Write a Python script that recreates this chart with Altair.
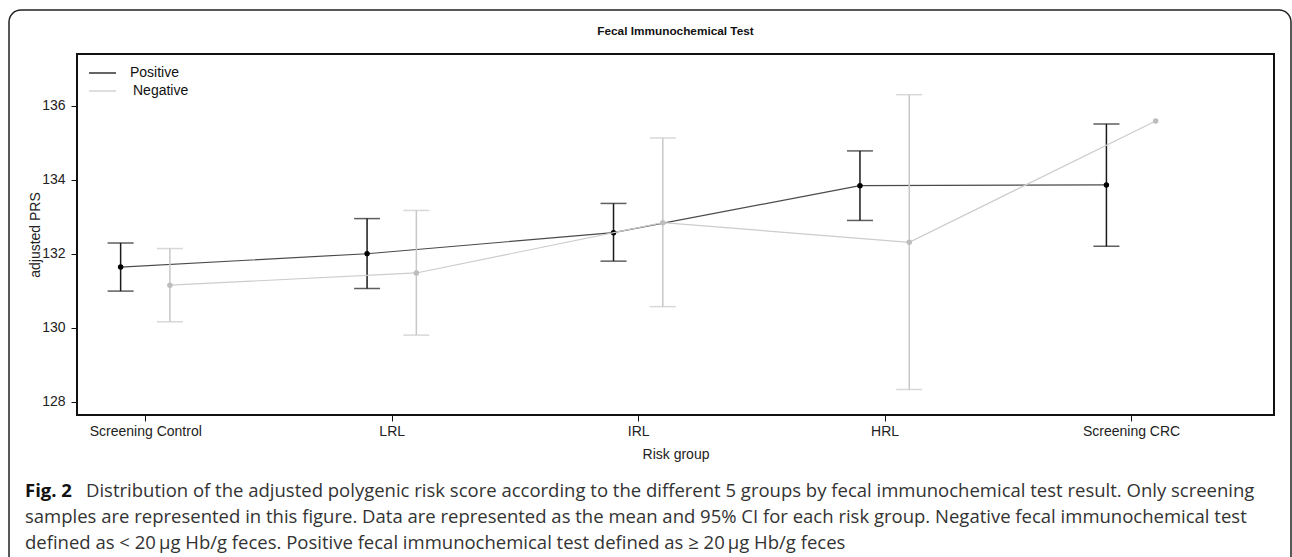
import altair as alt
import pandas as pd

groups = ["Screening Control", "LRL", "IRL", "HRL", "Screening CRC"]
series = ["Positive", "Negative"]
dodge = [-0.1, 0.1]

pos_mean = [131.64, 132.00, 132.57, 133.84, 133.86]
pos_low = [130.99, 131.06, 131.80, 132.90, 132.20]
pos_high = [132.29, 132.95, 133.36, 134.78, 135.51]

neg_mean = [131.15, 131.48, 132.84, 132.31, 135.59]
neg_low = [130.16, 129.80, 130.57, 128.33, None]
neg_high = [132.14, 133.17, 135.13, 136.30, None]

y_ticks = [128, 130, 132, 134, 136]

title_text = "Fecal Immunochemical Test"
caption_bold = "Fig. 2"
caption_lines = [
    "Distribution of the adjusted polygenic risk score according to the different 5 groups by fecal immunochemical test result. Only screening",
    "samples are represented in this figure. Data are represented as the mean and 95% CI for each risk group. Negative fecal immunochemical test",
    "defined as < 20\u2009\u03bcg Hb/g feces. Positive fecal immunochemical test defined as \u2265 20\u2009\u03bcg Hb/g feces",
]

rows = []
for s, name in enumerate(series):
    means = pos_mean if s == 0 else neg_mean
    lows = pos_low if s == 0 else neg_low
    highs = pos_high if s == 0 else neg_high
    for i, g in enumerate(groups):
        rows.append({"series": name, "group": g, "x": i + 1 + dodge[s],
                     "mean": means[i], "low": lows[i], "high": highs[i]})
df = pd.DataFrame(rows)

W, H = 1197, 361
xs = alt.Scale(domain=[0.723, 5.58], nice=False, zero=False)
ys = alt.Scale(domain=[127.64, 137.4], nice=False, zero=False)

label_expr = "[" + ",".join("'%s'" % g for g in groups) + "][datum.value-1]"

x_enc = alt.X("x:Q", scale=xs, axis=alt.Axis(
    values=[1, 2, 3, 4, 5], labelExpr=label_expr, title="Risk group",
    titleX=W / 2, titleY=39, titleBaseline="middle", labelPadding=3))
y_axis = alt.Axis(values=y_ticks, title="adjusted PRS", titleX=-41.5, titleY=H / 2,
                  titleAlign="center", titleBaseline="middle", labelPadding=6)

line_col = {"Positive": "#4a4a4a", "Negative": "#cccccc"}
bar_col = {"Positive": "#1a1a1a", "Negative": "#c8c8c8"}
pt_col = {"Positive": "#000000", "Negative": "#bdbdbd"}

layers = []
# outer frame
frame = alt.Chart(pd.DataFrame({"a": [0]})).mark_rect(
    fill=None, stroke="#222", strokeWidth=1.5, cornerRadius=12
).encode(x=alt.value(-68), x2=alt.value(1214), y=alt.value(-44), y2=alt.value(520))
layers.append(frame)

for s, name in enumerate(series):
    d = df[df.series == name]
    base = alt.Chart(d)
    layers.append(base.mark_line(color=line_col[name], strokeWidth=1.2).encode(
        x=x_enc, y=alt.Y("mean:Q", scale=ys, axis=y_axis)))
    db = d.dropna(subset=["low"])
    eb = alt.Chart(db)
    layers.append(eb.mark_rule(color=bar_col[name], strokeWidth=1.5).encode(
        x="x:Q", y="low:Q", y2="high:Q"))
    layers.append(eb.mark_tick(color=bar_col[name], orient="horizontal", size=26, thickness=1.5).encode(
        x="x:Q", y="low:Q"))
    layers.append(eb.mark_tick(color=bar_col[name], orient="horizontal", size=26, thickness=1.5).encode(
        x="x:Q", y="high:Q"))
    layers.append(base.mark_circle(color=pt_col[name], size=30, opacity=1).encode(
        x="x:Q", y="mean:Q"))

# legend
leg_y = [19, 37]
leg_tx = [53, 56]
for s, name in enumerate(series):
    ld = pd.DataFrame({"label": [name]})
    layers.append(alt.Chart(ld).mark_rule(color=line_col[name] if s else "#111", strokeWidth=1.3).encode(
        x=alt.value(12), x2=alt.value(39), y=alt.value(leg_y[s])))
    layers.append(alt.Chart(ld).mark_text(align="left", baseline="middle", font="Liberation Sans",
                                           fontSize=14, color="#111").encode(
        x=alt.value(leg_tx[s]), y=alt.value(leg_y[s]), text="label:N"))

# title
layers.append(alt.Chart(pd.DataFrame({"t": [title_text]})).mark_text(
    font="Liberation Sans", fontSize=11.8, fontWeight="bold", color="#111", baseline="middle"
).encode(x=alt.value(W / 2), y=alt.value(-23), text="t:N"))

# caption
cap_y = [437, 463, 489]
layers.append(alt.Chart(pd.DataFrame({"t": [caption_bold]})).mark_text(
    font="Open Sans", fontSize=18.5, fontWeight="bold", color="#111", align="left", baseline="middle"
).encode(x=alt.value(-52), y=alt.value(cap_y[0]), text="t:N"))
cap_x = [9, -52, -52]
for i, line in enumerate(caption_lines):
    layers.append(alt.Chart(pd.DataFrame({"t": [line]})).mark_text(
        font="Open Sans", fontSize=18.5, color="#333", align="left", baseline="middle"
    ).encode(x=alt.value(cap_x[i]), y=alt.value(cap_y[i]), text="t:N"))

chart = alt.layer(*layers).properties(
    width=W, height=H,
    background="white",
    autosize=alt.AutoSizeParams(type="none"),
    padding={"left": 77, "top": 54, "right": 18, "bottom": 142},
).configure_view(stroke="#111", strokeWidth=2).configure_axis(
    grid=False, domain=False, tickColor="#111", tickSize=6, tickWidth=1,
    labelFont="Liberation Sans", labelFontSize=14, labelColor="#222",
    titleFont="Liberation Sans", titleFontSize=14, titleFontWeight="normal", titleColor="#222",
)

chart.save("out.html", embed_options={"renderer": "svg", "actions": False})
